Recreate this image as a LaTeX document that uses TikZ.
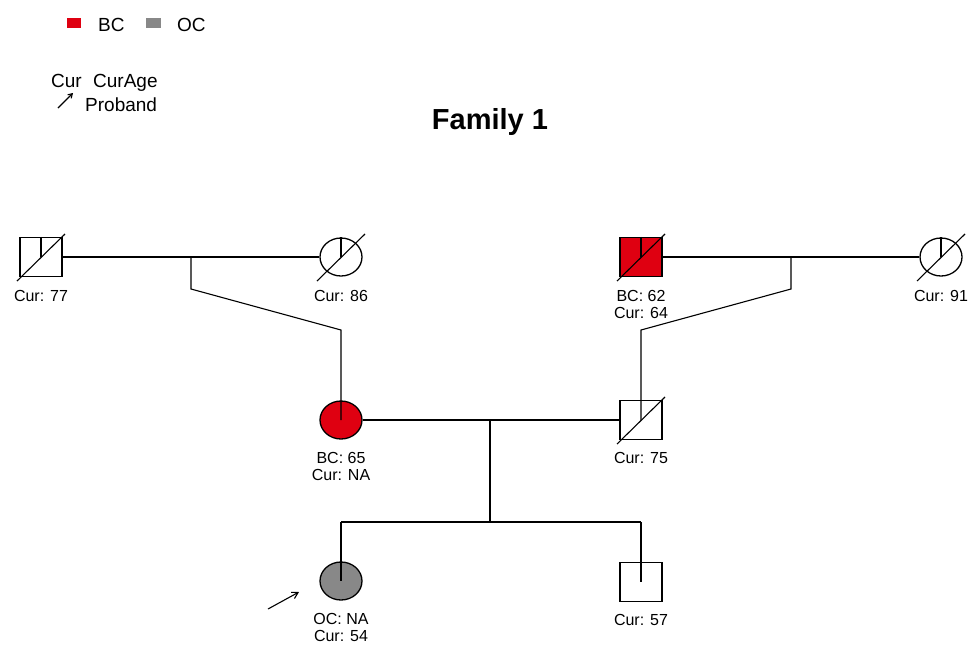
\documentclass[tikz,border=0pt]{standalone}
\usepackage{fontspec}
\setmainfont{Liberation Sans}
\usetikzlibrary{shapes.geometric,arrows.meta,calc}
\definecolor{bcred}{HTML}{DF0011}
\definecolor{ocgrey}{HTML}{888888}
\begin{document}
\begin{tikzpicture}[x=1pt,y=-1pt,
  male/.style={draw,rectangle,minimum width=42pt,minimum height=39pt,inner sep=0pt,line width=1.3pt},
  female/.style={draw,ellipse,minimum width=42pt,minimum height=38pt,inner sep=0pt,line width=1.3pt},
  lbl/.style={font=\fontsize{16}{17.5}\selectfont,align=center,anchor=north,inner sep=0pt},
  leg/.style={inner sep=0pt,anchor=base west,font=\fontsize{19}{21}\selectfont},
  ln/.style={line width=1.1pt},
  dead/.style={line width=1.1pt}]
\useasboundingbox (0,0) rectangle (973,656);
% legend
\fill[bcred] (67,18) rectangle (81,28);
\node[leg] (lbc) at (98,31) {BC};
\fill[ocgrey] (146,18) rectangle (161,28);
\node[leg] (loc) at (177,31) {OC};
\node[leg] (lcur) at (51,87) {Cur};
\node[leg] (lage) at (93,87) {CurAge};
\node[leg] (lpro) at (85,111) {Proband};
\coordinate (la1) at (58,108);
\coordinate (la2) at (73,93);
\draw[ln,-{Straight Barb[length=4pt,width=5pt]}] (la1) -- (la2);
% title
\node[font=\bfseries\fontsize{29}{32}\selectfont] (title) at (490,122) {Family 1};
% individuals
\node[male] (p77) at (41,257) {};
\node[female] (p86) at (341,257) {};
\node[male,fill=bcred] (p62) at (641,257) {};
\node[female] (p91) at (941,257) {};
\node[female,fill=bcred] (p65) at (341,420) {};
\node[male] (p75) at (641,420) {};
\node[female,fill=ocgrey] (p54) at (341,581) {};
\node[male] (p57) at (641,582) {};
% labels
\node[lbl] (t77) at (41,290) {Cur: 77};
\node[lbl] (t86) at (341,290) {Cur: 86};
\node[lbl] (t62) at (641,290) {BC: 62\\Cur: 64};
\node[lbl] (t91) at (941,290) {Cur: 91};
\node[lbl] (t65) at (341,452) {BC: 65\\Cur: NA};
\node[lbl] (t75) at (641,452) {Cur: 75};
\node[lbl] (t54) at (341,613) {OC: NA\\Cur: 54};
\node[lbl] (t57) at (641,614) {Cur: 57};
% deceased strokes
\foreach \n in {p77,p86,p62,p91,p75}{
  \draw[dead] ($(\n.center)+(-24,24)$) -- ($(\n.center)+(24,-23)$);
}
% founder stubs
\foreach \n in {p77,p86,p62,p91}{
  \draw[ln] (\n.north) -- (\n.center);
}
% marriages
\draw[ln] (p77.east) -- (p86.west);
\draw[ln] (p62.east) -- (p91.west);
\draw[ln] (p65.east) -- (p75.west);
% descents
\coordinate (m1) at (191,257);
\coordinate (m1b) at (191,289);
\coordinate (c1) at (341,330);
\draw[ln] (m1) -- (m1b) -- (c1) -- (p65.center);
\coordinate (m2) at (791,257);
\coordinate (m2b) at (791,289);
\coordinate (c2) at (641,330);
\draw[ln] (m2) -- (m2b) -- (c2) -- (p75.center);
\coordinate (m3) at (490,420);
\coordinate (m3b) at (490,522);
\coordinate (s1) at (341,522);
\coordinate (s2) at (641,522);
\draw[ln] (m3) -- (m3b);
\draw[ln] (s1) -- (s2);
\draw[ln] (s1) -- (p54.center);
\draw[ln] (s2) -- (p57.center);
% proband arrow
\coordinate (pa1) at (268,609);
\coordinate (pa2) at (299,592);
\draw[ln,-{Straight Barb[length=6pt,width=7pt]}] (pa1) -- (pa2);
\end{tikzpicture}
\end{document}
